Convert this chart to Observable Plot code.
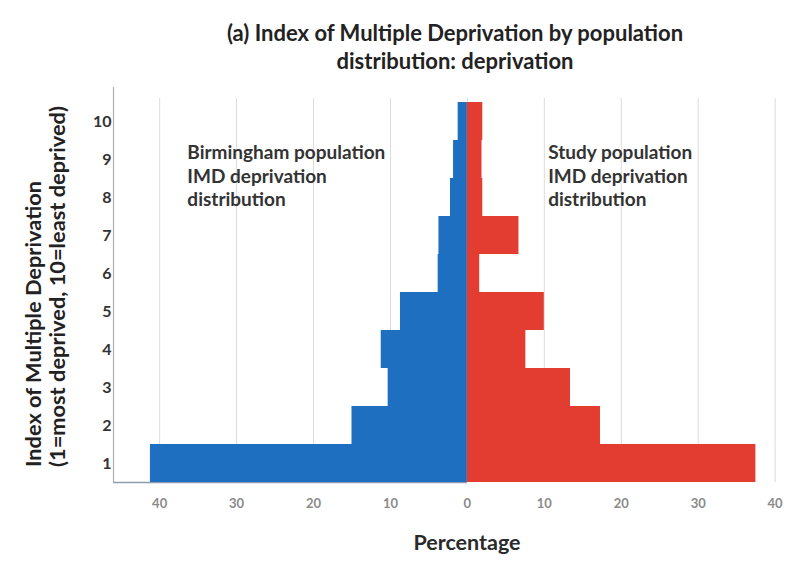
<!DOCTYPE html>
<html>
<head>
<meta charset="utf-8">
<script src="https://cdn.jsdelivr.net/npm/d3@7"></script>
<script src="https://cdn.jsdelivr.net/npm/@observablehq/plot@0.6"></script>
<style>
  html, body { margin: 0; padding: 0; background: #fff; }
  #wrap { position: relative; width: 800px; height: 572px; font-family: Lato, "Open Sans", sans-serif; color: #222; }
  #chart { position: absolute; left: 0; top: 0; }
  .title { position: absolute; left: 455px; top: 19px; transform: translateX(-50%); white-space: nowrap; text-align: center; font-size: 22px; font-weight: bold; line-height: 28px; color: #222; }
  .ylab { position: absolute; top: 467px; transform: rotate(-90deg); transform-origin: 0 0; white-space: nowrap; font-size: 21.8px; font-weight: bold; line-height: 24px; color: #222; }
  .xlab { position: absolute; left: 467px; top: 529px; transform: translateX(-50%); font-size: 21.5px; font-weight: bold; color: #2a2a2a; white-space: nowrap; }
</style>
</head>
<body>
<div id="wrap">
  <div id="chart"></div>
  <div class="title">(a) Index of Multiple Deprivation by population<br>distribution: deprivation</div>
  <div class="ylab" style="left:21px">Index of Multiple Deprivation</div>
  <div class="ylab" style="left:45px">(1=most deprived, 10=least deprived)</div>
  <div class="xlab">Percentage</div>
</div>
<script>
// IMD deciles (1 = most deprived, 10 = least deprived)
const imd = [1, 2, 3, 4, 5, 6, 7, 8, 9, 10];
// Birmingham population distribution (%), drawn to the left
const birmingham = [41.2, 15.0, 10.3, 11.2, 8.7, 3.8, 3.7, 2.2, 1.8, 1.2];
// Study population distribution (%), drawn to the right
const study = [37.5, 17.3, 13.4, 7.6, 10.0, 1.6, 6.7, 2.0, 1.9, 2.0];
// x tick values (signed) – labels shown as absolute values
const xTicks = [-40, -30, -20, -10, 0, 10, 20, 30, 40];
// annotation texts
const leftNote = "Birmingham population\nIMD deprivation\ndistribution";
const rightNote = "Study population\nIMD deprivation\ndistribution";

const rows = imd.map((d, i) => ({imd: d, b: birmingham[i], s: study[i]}));

const blue = "#1f6fc1";
const red = "#e23d30";

const chart = Plot.plot({
  width: 800,
  height: 572,
  marginLeft: 113,
  marginRight: 10,
  marginTop: 87,
  marginBottom: 90,
  style: {fontFamily: "Lato, 'Open Sans', sans-serif", background: "transparent", overflow: "visible"},
  x: {domain: [-46, 42]},
  y: {type: "band", domain: imd.slice().reverse(), padding: 0, insetTop: 14},
  marks: [
    Plot.ruleX(xTicks, {stroke: "#dcdcdc", strokeWidth: 1, insetTop: 11}),
    Plot.ruleX([-46], {stroke: "#b0b0b0", strokeWidth: 1.2}),
    Plot.ruleY([1], {y: d => d, x1: -46, x2: 0, dy: 19, stroke: "#8e9bb0", strokeWidth: 1.5}),
    Plot.barX(rows, {y: "imd", x1: d => -d.b, x2: 0, fill: blue}),
    Plot.barX(rows, {y: "imd", x1: 0, x2: "s", fill: red}),
    Plot.axisX({ticks: xTicks, tickFormat: d => Math.abs(d), tickSize: 0, tickPadding: 16, fontSize: 13, fontWeight: "bold", color: "#8a8a8a", label: null}),
    Plot.axisY({tickSize: 0, tickPadding: 2, fontSize: 16, fontWeight: "bold", color: "#333", label: null}),
    Plot.text([leftNote], {x: -36.4, y: () => 9, text: d => d, textAnchor: "start", lineAnchor: "top", dy: -17, lineHeight: 1.24, fontSize: 19, fontWeight: "bold", fill: "#333"}),
    Plot.text([rightNote], {x: 10.5, y: () => 9, text: d => d, textAnchor: "start", lineAnchor: "top", dy: -17, lineHeight: 1.24, fontSize: 19, fontWeight: "bold", fill: "#333"})
  ]
});
document.getElementById("chart").appendChild(chart);
</script>
</body>
</html>
